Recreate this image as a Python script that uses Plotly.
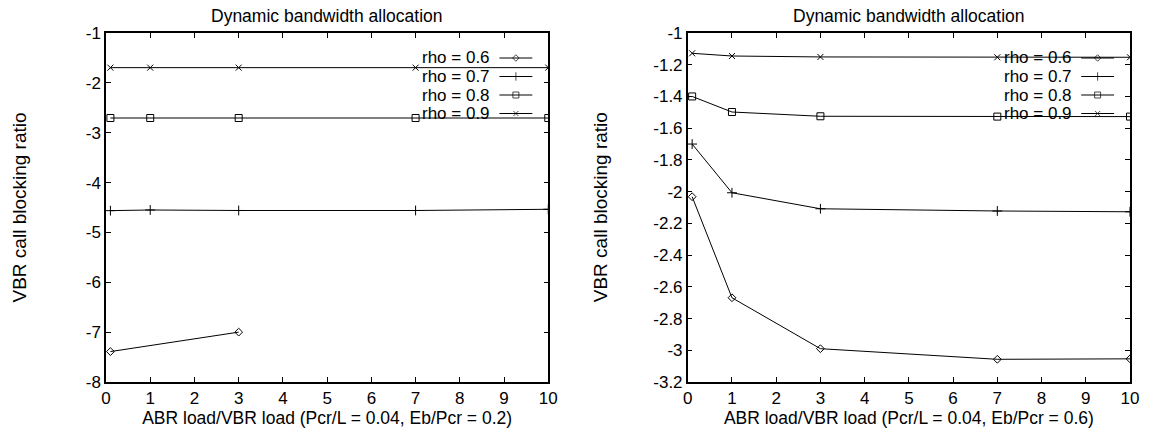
import plotly.graph_objects as go
from plotly.subplots import make_subplots

# ABR load / VBR load
x_load = [0.1, 1, 3, 7, 10]
x_left_rho06 = [0.1, 3]

# left panel: Eb/Pcr = 0.2
left_rho06 = [-7.39, -7.0]
left_rho07 = [-4.563, -4.55, -4.56, -4.56, -4.536]
left_rho08 = [-2.705, -2.705, -2.705, -2.705, -2.705]
left_rho09 = [-1.695, -1.695, -1.695, -1.695, -1.695]

# right panel: Eb/Pcr = 0.6
right_rho06 = [-2.032, -2.669, -2.99, -3.057, -3.054]
right_rho07 = [-1.70, -2.007, -2.108, -2.122, -2.127]
right_rho08 = [-1.40, -1.498, -1.525, -1.527, -1.527]
right_rho09 = [-1.128, -1.145, -1.151, -1.153, -1.153]

# tick labels (plain hyphen as in the original)
x_ticks = list(range(0, 11))
left_yticks = [-8, -7, -6, -5, -4, -3, -2, -1]
left_ylabels = ['-8', '-7', '-6', '-5', '-4', '-3', '-2', '-1']
right_yticks = [-3.2, -3.0, -2.8, -2.6, -2.4, -2.2, -2.0, -1.8, -1.6, -1.4, -1.2, -1.0]
right_ylabels = ['-3.2', '-3', '-2.8', '-2.6', '-2.4', '-2.2', '-2', '-1.8', '-1.6',
                 '-1.4', '-1.2', '-1']

series_names = ['rho = 0.6', 'rho = 0.7', 'rho = 0.8', 'rho = 0.9']
symbols = ['diamond-open', 'cross-thin-open', 'square-open', 'x-thin-open']
sizes = [6, 7, 7, 6]

FONT = 'Liberation Sans, Arial, sans-serif'

fig = make_subplots(rows=1, cols=2, horizontal_spacing=0.1362)

panels = [
    (1, [(x_left_rho06, left_rho06), (x_load, left_rho07),
         (x_load, left_rho08), (x_load, left_rho09)], (-8, -1)),
    (2, [(x_load, right_rho06), (x_load, right_rho07),
         (x_load, right_rho08), (x_load, right_rho09)], (-3.2, -1)),
]

for col, data, yr in panels:
    for name, (xs, ys), sym, sz in zip(series_names, data, symbols, sizes):
        fig.add_trace(
            go.Scatter(
                x=xs, y=ys, mode='lines+markers', name=name,
                line=dict(color='black', width=1),
                marker=dict(symbol=sym, size=sz, color='black',
                            line=dict(color='black', width=1)),
                showlegend=False,
            ),
            row=1, col=col,
        )

    # gnuplot-style key: label, then a line sample with the marker
    ax = '' if col == 1 else '2'
    rows_y = [1 - (25 + 18.5 * i) / 349 for i in range(4)]
    for name, yy in zip(series_names, rows_y):
        fig.add_annotation(
            text=name, xref=f'x{ax} domain', yref=f'y{ax} domain',
            x=1 - 56 / 444, y=yy, xanchor='right', yanchor='middle',
            showarrow=False, font=dict(family=FONT, size=17, color='black'),
        )
        fig.add_shape(
            type='line', xref=f'x{ax} domain', yref=f'y{ax} domain',
            x0=1 - 49 / 444, x1=1 - 16 / 444, y0=yy, y1=yy,
            line=dict(color='black', width=1),
        )
    fig.add_trace(
        go.Scatter(
            x=[10 * (1 - 32.5 / 444)] * 4,
            y=[yr[0] + (yr[1] - yr[0]) * f for f in rows_y],
            mode='markers',
            marker=dict(symbol=symbols, size=[5, 6, 6, 5], color='black',
                        line=dict(color='black', width=1)),
            showlegend=False, hoverinfo='skip',
        ),
        row=1, col=col,
    )

    fig.add_annotation(
        text='Dynamic bandwidth allocation', xref=f'x{ax} domain', yref=f'y{ax} domain',
        x=0.5, y=1, yshift=6, xanchor='center', yanchor='bottom', showarrow=False,
        borderpad=0, font=dict(family=FONT, size=17.5, color='black'),
    )
    fig.add_annotation(
        text='VBR call blocking ratio', xref=f'x{ax} domain', yref=f'y{ax} domain',
        x=0, y=0.5, xshift=-87, textangle=-90, xanchor='center', yanchor='middle',
        showarrow=False, font=dict(family=FONT, size=19, color='black'),
    )

axis_common = dict(
    showline=True, linecolor='black', linewidth=1.5, mirror='ticks',
    ticks='inside', ticklen=5, tickcolor='black', tickwidth=1,
    showgrid=False, zeroline=False,
    tickfont=dict(family=FONT, size=17, color='black'),
    title_font=dict(family=FONT, size=17.5, color='black'),
)

fig.update_xaxes(range=[0, 10], tickvals=x_ticks, title_standoff=1, **axis_common)
fig.update_xaxes(title_text='ABR load/VBR load (Pcr/L = 0.04, Eb/Pcr = 0.2)', row=1, col=1)
fig.update_xaxes(title_text='ABR load/VBR load (Pcr/L = 0.04, Eb/Pcr = 0.6)', row=1, col=2)

fig.update_yaxes(range=[-8, -1], tickvals=left_yticks, ticktext=left_ylabels,
                 row=1, col=1, **axis_common)
fig.update_yaxes(range=[-3.2, -1], tickvals=right_yticks, ticktext=right_ylabels,
                 row=1, col=2, **axis_common)

fig.update_layout(
    width=1151, height=435,
    margin=dict(l=106, r=17, t=33, b=53),
    plot_bgcolor='white', paper_bgcolor='white',
    showlegend=False,
)

# drop the default 8px page margin so the figure fills the window exactly
fig.write_html('out.html', config={'displayModeBar': False},
               post_script="document.body.style.margin='0';")
